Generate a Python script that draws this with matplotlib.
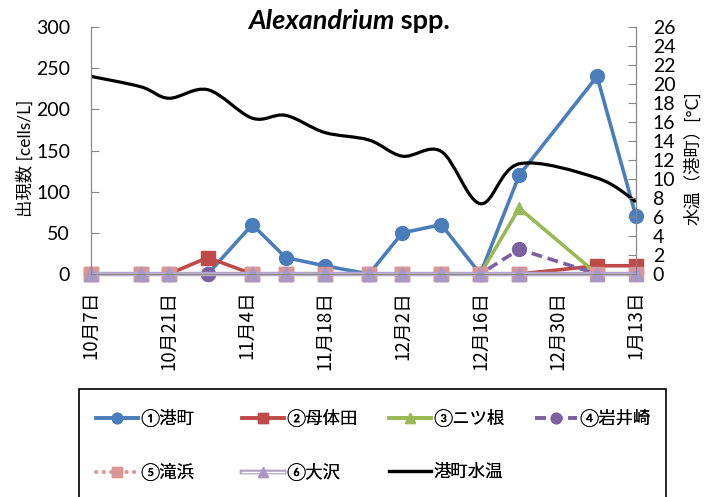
import matplotlib
matplotlib.use("Agg")
import matplotlib.pyplot as plt
import matplotlib.dates as mdates
from matplotlib.lines import Line2D
from matplotlib.path import Path
from matplotlib.patches import PathPatch, Rectangle
import numpy as np
import datetime as dt

plt.rcParams['font.family'] = ['Lato', 'Noto Sans CJK JP']

# データ
dates = ["2012-10-07", "2012-10-16", "2012-10-21", "2012-10-28", "2012-11-05",
         "2012-11-11", "2012-11-18", "2012-11-26", "2012-12-02", "2012-12-09",
         "2012-12-16", "2012-12-23", "2013-01-06", "2013-01-13"]

minatomachi = [0, 0, 0, 0, 60, 20, 10, 0, 50, 60, 0, 120, 240, 70]
motaida = [0, 0, 0, 20, 0, 0, 0, 0, 0, 0, 0, 0, 10, 10]
futatsune = [0, 0, 0, np.nan, 0, 0, 0, 0, 0, 0, 0, 80, 0, 0]
iwaisaki = [0, 0, 0, 0, 0, 0, 0, 0, 0, 0, 0, 30, 0, 0]
takihama = [0, 0, 0, np.nan, 0, 0, 0, 0, 0, 0, 0, 0, 0, 0]
oosawa = [0, 0, 0, np.nan, 0, 0, 0, 0, 0, 0, 0, 0, 0, 0]
temp = [20.8, 19.7, 18.5, 19.4, 16.4, 16.7, 14.9, 14.1, 12.4, 12.9, 7.4, 11.6, 10.1, 7.6]

labels = ['①港町', '②母体田', '③ニツ根', '④岩井崎', '⑤滝浜', '⑥大沢', '港町水温']

x = mdates.date2num([dt.datetime.strptime(d, "%Y-%m-%d") for d in dates])

fig = plt.figure(figsize=(7.2, 4.97), dpi=100)
ax = fig.add_axes([91 / 720, 1 - 274 / 497, 545 / 720, 247 / 497])
ax2 = ax.twinx()


def plot_series(vals, **kw):
    v = np.array(vals, dtype=float)
    m = ~np.isnan(v)
    return ax.plot(x[m], v[m], clip_on=False, **kw)[0]


h1 = plot_series(minatomachi, color='#4A7EBB', lw=2.6, marker='o', ms=10, zorder=3)
h2 = plot_series(motaida, color='#BE4B48', lw=2.6, marker='s', ms=9.5, zorder=3)
h3 = plot_series(futatsune, color='#98B954', lw=2.6, marker='^', ms=9, zorder=3)
h4 = plot_series(iwaisaki, color='#7D60A0', lw=2.6, ls=(0, (3, 1.6)), marker='o', ms=10, zorder=3)
h5 = plot_series(takihama, color='#D99694', lw=2.6, ls=(0, (0.1, 2)), dash_capstyle='round',
                 marker='s', ms=9.5, zorder=3)
h6a = plot_series(oosawa, color='#B3A2C7', lw=3.2, zorder=3)
h6b = plot_series(oosawa, color='white', lw=1.0, zorder=3)
h6m = plot_series(oosawa, color='#A898C6', lw=0, marker='^', ms=10, zorder=3)

# 水温 (平滑線)
pts = np.column_stack([x, temp])
n = len(pts)
verts = [pts[0]]
codes = [Path.MOVETO]
for i in range(n - 1):
    p0 = pts[max(i - 1, 0)]
    p1 = pts[i]
    p2 = pts[i + 1]
    p3 = pts[min(i + 2, n - 1)]
    verts += [p1 + (p2 - p0) / 6, p2 - (p3 - p1) / 6, p2]
    codes += [Path.CURVE4] * 3
ax2.add_patch(PathPatch(Path(verts, codes), fill=False, edgecolor='black', lw=2.3))
h7 = Line2D([], [], color='black', lw=2.3)

ax.set_xlim(x[0], x[-1])
ax.set_ylim(0, 300)
ax2.set_ylim(0, 26)
ax.set_yticks(np.arange(0, 301, 50))
ax2.set_yticks(np.arange(0, 27, 2))

ax.set_xticks(np.arange(x[0], x[-1] + 1, 14))
ax.xaxis.set_major_formatter(plt.FuncFormatter(
    lambda v, p: f"{mdates.num2date(v).month}月{mdates.num2date(v).day}日"))
for t in ax.get_xticklabels():
    t.set_family('Noto Sans CJK JP')
ax.tick_params(axis='x', length=0, pad=12, labelsize=13.5, rotation=90)
ax.tick_params(axis='y', direction='in', length=6, color='#868686', pad=15, labelsize=14)
ax2.tick_params(axis='y', direction='in', length=6, color='#868686', pad=12, labelsize=14)

for a in (ax, ax2):
    a.spines['top'].set_visible(False)
    for s in ('left', 'right', 'bottom'):
        a.spines[s].set_color('#868686')

fig.text(25 / 720, 1 - 158 / 497, '出現数 [cells/L]', rotation=90, ha='center', va='center', fontsize=12.5)
fig.text(693 / 720, 1 - 158 / 497, '水温（港町）[°C]', rotation=90, ha='center', va='center', fontsize=12.5)

# タイトル
fig.text(394 / 720, 1 - 29 / 497, 'Alexandrium', fontsize=19.5, fontweight='bold', style='italic',
         ha='right', va='baseline')
fig.text(394 / 720, 1 - 29 / 497, ' spp.', fontsize=19.5, fontweight='bold', ha='left', va='baseline')

# 凡例
handles = [h1, h2, h3, h4, h5, (h6a, h6b, h6m), h7]
col_x = [96, 242, 389, 535]
cols = [[0, 4], [1, 5], [2, 6], [3]]
for cx, idx in zip(col_x, cols):
    lg = fig.legend([handles[i] for i in idx], [labels[i] for i in idx],
                    loc='upper left', bbox_to_anchor=(cx / 720, 1 - 409 / 497),
                    frameon=False, borderpad=0, borderaxespad=0, fontsize=12.5,
                    handlelength=2.4, handletextpad=0.15, labelspacing=2.1, numpoints=1,
                    markerscale=0.75)
    fig.add_artist(lg)
fig.patches.append(Rectangle((79 / 720, 1 - 520 / 497), 587 / 720, 131 / 497,
                             transform=fig.transFigure, fill=False, edgecolor='black', lw=1.2))

plt.savefig('out.png', dpi=100)
